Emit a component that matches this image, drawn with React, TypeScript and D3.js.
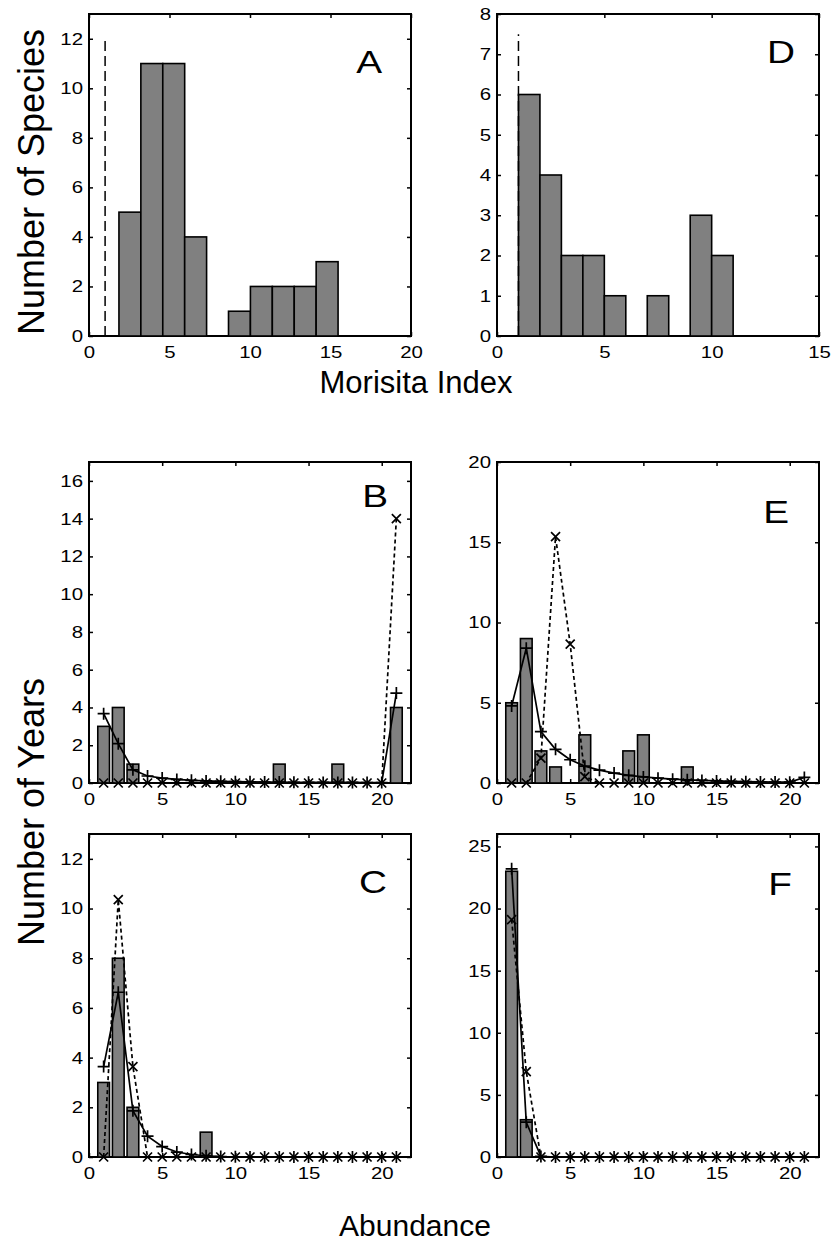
import React, { useRef, useEffect } from "react";
import * as d3 from "d3";

const W = 831;
const H = 1244;
const FONT = "'Liberation Sans', Arial, Helvetica, sans-serif";

// Morisita index histograms (panels A and D)
const countsA = [5, 11, 11, 4, 0, 1, 2, 2, 2, 3];
const binStartA = 1.86;
const binWidthA = 1.361;
const countsD = [6, 4, 2, 2, 1, 0, 1, 0, 3, 2];
const binStartD = 1;
const binWidthD = 1;
const randomMorisita = 1; // dashed reference line (random dispersion)
const refTopA = 12;
const refTopD = 7.5;

// Abundance classes (panels B, C, E, F)
const abundance = [1, 2, 3, 4, 5, 6, 7, 8, 9, 10, 11, 12, 13, 14, 15, 16, 17, 18, 19, 20, 21];

// observed number of years
const yearsB = [3, 4, 1, 0, 0, 0, 0, 0, 0, 0, 0, 0, 1, 0, 0, 0, 1, 0, 0, 0, 4];
const yearsC = [3, 8, 2, 0, 0, 0, 0, 1, 0, 0, 0, 0, 0, 0, 0, 0, 0, 0, 0, 0, 0];
const yearsE = [5, 9, 2, 1, 0, 3, 0, 0, 2, 3, 0, 0, 1, 0, 0, 0, 0, 0, 0, 0, 0];
const yearsF = [23, 3, 0, 0, 0, 0, 0, 0, 0, 0, 0, 0, 0, 0, 0, 0, 0, 0, 0, 0, 0];

// model 1 (solid line, + markers)
const fitPlusB = [3.67, 2.08, 0.7, 0.37, 0.26, 0.19, 0.14, 0.11, 0.09, 0.07, 0.06, 0.05, 0.05, 0.04, 0.04, 0.03, 0.03, 0.03, 0.02, 0.02, 4.76];
const fitPlusC = [3.64, 6.63, 1.86, 0.84, 0.42, 0.2, 0.1, 0.05, 0.02, 0.01, 0, 0, 0, 0, 0, 0, 0, 0, 0, 0, 0];
const fitPlusE = [4.8, 8.4, 3.2, 2.1, 1.45, 1.05, 0.8, 0.62, 0.48, 0.38, 0.3, 0.24, 0.2, 0.16, 0.13, 0.1, 0.08, 0.07, 0.06, 0.05, 0.35];
const fitPlusF = [23.2, 2.8, 0.05, 0, 0, 0, 0, 0, 0, 0, 0, 0, 0, 0, 0, 0, 0, 0, 0, 0, 0];

// model 2 (dotted line, x markers)
const fitCrossB = [0, 0, 0, 0, 0, 0, 0, 0, 0, 0, 0, 0, 0, 0, 0, 0, 0, 0, 0, 0, 14.0];
const fitCrossC = [0, 10.36, 3.64, 0, 0, 0, 0, 0, 0, 0, 0, 0, 0, 0, 0, 0, 0, 0, 0, 0, 0];
const fitCrossE = [0, 0, 1.55, 15.35, 8.65, 0.4, 0, 0, 0, 0, 0, 0, 0, 0, 0, 0, 0, 0, 0, 0, 0];
const fitCrossF = [19.1, 6.87, 0, 0, 0, 0, 0, 0, 0, 0, 0, 0, 0, 0, 0, 0, 0, 0, 0, 0, 0];

const ticks20 = [0, 5, 10, 15, 20];
const ticks15 = [0, 5, 10, 15];

// the original figure is a little stretched sideways
const STRETCH = 1.2;

type Frame = {
  left: number; top: number; w: number; h: number;
  xMax: number; yMax: number; xTicks: number[]; yTicks: number[];
  letter: string; lx: number; ly: number;
};

function drawFrame(svg: any, f: Frame) {
  const g = svg.append("g").attr("transform", `translate(${f.left},${f.top})`);
  const x = d3.scaleLinear().domain([0, f.xMax]).range([0, f.w]);
  const y = d3.scaleLinear().domain([0, f.yMax]).range([f.h, 0]);

  const style = (sel: any) => {
    sel.select(".domain").remove();
    sel.selectAll(".tick line").attr("stroke", "#000").attr("stroke-width", 1.5);
    sel.selectAll("text")
      .attr("font-family", FONT)
      .attr("font-size", 17)
      .attr("fill", "#000")
      .attr("transform", `scale(${STRETCH},1)`);
  };

  g.append("g")
    .attr("transform", `translate(0,${f.h})`)
    .call(d3.axisBottom(x).tickValues(f.xTicks).tickSizeInner(-4).tickSizeOuter(0).tickPadding(10))
    .call(style);
  g.append("g")
    .call(d3.axisLeft(y).tickValues(f.yTicks).tickSizeInner(-4).tickSizeOuter(0).tickPadding(5))
    .call(style);
  g.append("g")
    .call(d3.axisTop(x).tickValues(f.xTicks).tickSizeInner(-4).tickSizeOuter(0).tickFormat(() => ""))
    .call(style);
  g.append("g")
    .attr("transform", `translate(${f.w},0)`)
    .call(d3.axisRight(y).tickValues(f.yTicks).tickSizeInner(-4).tickSizeOuter(0).tickFormat(() => ""))
    .call(style);

  g.append("rect")
    .attr("width", f.w)
    .attr("height", f.h)
    .attr("fill", "none")
    .attr("stroke", "#000")
    .attr("stroke-width", 2);

  g.append("text")
    .attr("transform", `translate(${f.w - f.lx},${f.ly}) scale(1.25,1)`)
    .attr("text-anchor", "end")
    .attr("font-family", FONT)
    .attr("font-size", 31)
    .text(f.letter);

  return { g, x, y };
}

function drawHist(svg: any, f: Frame, counts: number[], start: number, width: number, refTop: number) {
  const { g, x, y } = drawFrame(svg, f);
  const bins = counts.map((c, i) => ({ x0: start + i * width, x1: start + (i + 1) * width, c }));
  g.selectAll("rect.bar")
    .data(bins.filter((b) => b.c > 0))
    .join("rect")
    .attr("class", "bar")
    .attr("x", (d: any) => x(d.x0))
    .attr("width", (d: any) => x(d.x1) - x(d.x0))
    .attr("y", (d: any) => y(d.c))
    .attr("height", (d: any) => y(0) - y(d.c))
    .attr("fill", "#808080")
    .attr("stroke", "#000")
    .attr("stroke-width", 1.6);
  g.append("line")
    .attr("x1", x(randomMorisita))
    .attr("x2", x(randomMorisita))
    .attr("y1", y(0))
    .attr("y2", y(refTop))
    .attr("stroke", "#000")
    .attr("stroke-width", 1.5)
    .attr("stroke-dasharray", "10,5");
}

function drawAbundance(svg: any, f: Frame, years: number[], plus: number[], cross: number[]) {
  const { g, x, y } = drawFrame(svg, f);
  const barW = 0.8;
  const rows = abundance.map((a, i) => ({ a, n: years[i], p: plus[i], c: cross[i] }));

  g.selectAll("rect.bar")
    .data(rows.filter((d) => d.n > 0))
    .join("rect")
    .attr("class", "bar")
    .attr("x", (d: any) => x(d.a - barW / 2))
    .attr("width", (d: any) => x(d.a + barW / 2) - x(d.a - barW / 2))
    .attr("y", (d: any) => y(d.n))
    .attr("height", (d: any) => y(0) - y(d.n))
    .attr("fill", "#808080")
    .attr("stroke", "#000")
    .attr("stroke-width", 1.6);

  const lineP = d3.line<any>().x((d) => x(d.a)).y((d) => y(d.p));
  const lineC = d3.line<any>().x((d) => x(d.a)).y((d) => y(d.c));

  g.append("path")
    .datum(rows)
    .attr("d", lineC)
    .attr("fill", "none")
    .attr("stroke", "#000")
    .attr("stroke-width", 1.7)
    .attr("stroke-dasharray", "4,3");
  g.append("path")
    .datum(rows)
    .attr("d", lineP)
    .attr("fill", "none")
    .attr("stroke", "#000")
    .attr("stroke-width", 1.7);

  g.selectAll("path.cross")
    .data(rows)
    .join("path")
    .attr("class", "cross")
    .attr("transform", (d: any) => `translate(${x(d.a)},${y(d.c)})`)
    .attr("d", "M-4.5,-4.5L4.5,4.5M-4.5,4.5L4.5,-4.5")
    .attr("stroke", "#000")
    .attr("stroke-width", 1.7);
  g.selectAll("path.plus")
    .data(rows)
    .join("path")
    .attr("class", "plus")
    .attr("transform", (d: any) => `translate(${x(d.a)},${y(d.p)})`)
    .attr("d", "M-6,0H6M0,-6V6")
    .attr("stroke", "#000")
    .attr("stroke-width", 1.7);
}

export default function App() {
  const svgRef = useRef<SVGSVGElement>(null);

  useEffect(() => {
    const svg = d3.select(svgRef.current);
    svg.selectAll("*").remove();
    svg.append("rect").attr("width", W).attr("height", H).attr("fill", "#fff");

    const pw = 322;
    const ph = 322;
    const colL = 89;
    const colR = 497;

    drawHist(svg, { left: colL, top: 14, w: pw, h: ph, xMax: 20, yMax: 13, xTicks: ticks20, yTicks: d3.range(0, 13, 2), letter: "A", lx: 29, ly: 59 }, countsA, binStartA, binWidthA, refTopA);
    drawHist(svg, { left: colR, top: 14, w: pw, h: ph, xMax: 15, yMax: 8, xTicks: ticks15, yTicks: d3.range(0, 9, 1), letter: "D", lx: 24, ly: 49 }, countsD, binStartD, binWidthD, refTopD);

    drawAbundance(svg, { left: colL, top: 462, w: pw, h: 321, xMax: 22, yMax: 17, xTicks: ticks20, yTicks: d3.range(0, 17, 2), letter: "B", lx: 23, ly: 45 }, yearsB, fitPlusB, fitCrossB);
    drawAbundance(svg, { left: colR, top: 462, w: pw, h: 321, xMax: 22, yMax: 20, xTicks: ticks20, yTicks: d3.range(0, 21, 5), letter: "E", lx: 30, ly: 61 }, yearsE, fitPlusE, fitCrossE);
    drawAbundance(svg, { left: colL, top: 834, w: pw, h: 323, xMax: 22, yMax: 13, xTicks: ticks20, yTicks: d3.range(0, 13, 2), letter: "C", lx: 24, ly: 59 }, yearsC, fitPlusC, fitCrossC);
    drawAbundance(svg, { left: colR, top: 834, w: pw, h: 323, xMax: 22, yMax: 26, xTicks: ticks20, yTicks: d3.range(0, 26, 5), letter: "F", lx: 27, ly: 61 }, yearsF, fitPlusF, fitCrossF);

    const title = (t: string, xPos: number, yPos: number, rotate: boolean, size: number) =>
      svg
        .append("text")
        .attr("transform", rotate ? `translate(${xPos},${yPos}) rotate(-90)` : `translate(${xPos},${yPos})`)
        .attr("text-anchor", "middle")
        .attr("font-family", FONT)
        .attr("font-size", size)
        .attr("fill", "#000")
        .text(t);

    title("Number of Species", 44, 182, true, 36);
    title("Morisita Index", 416, 393, false, 31);
    title("Number of Years", 44, 812, true, 36);
    title("Abundance", 415, 1236, false, 30);
  }, []);

  return <svg ref={svgRef} width={W} height={H} style={{ position: "absolute", left: 0, top: 0 }} />;
}
